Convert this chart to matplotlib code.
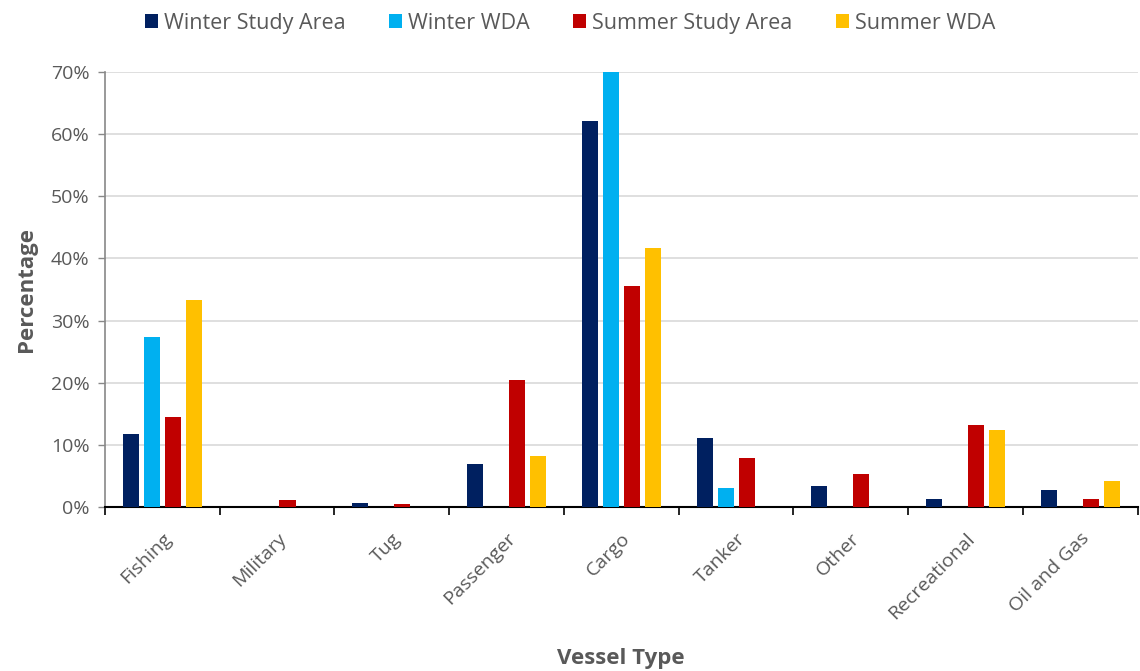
import numpy as np
import matplotlib.pyplot as plt
from matplotlib.ticker import PercentFormatter, FixedLocator

plt.rcParams['font.family'] = ['Open Sans', 'DejaVu Sans']

vessel_types = ["Fishing", "Military", "Tug", "Passenger", "Cargo",
                "Tanker", "Other", "Recreational", "Oil and Gas"]

# percentages per vessel type
winter_study = [11.7, 0.0, 0.7, 6.9, 62.1, 11.1, 3.4, 1.4, 2.8]
winter_wda = [27.4, 0.0, 0.0, 0.0, 69.9, 3.1, 0.0, 0.0, 0.0]
summer_study = [14.5, 1.2, 0.6, 20.4, 35.6, 7.9, 5.3, 13.2, 1.3]
summer_wda = [33.3, 0.0, 0.0, 8.3, 41.7, 0.0, 0.0, 12.5, 4.2]

series = [
    ("Winter Study Area", winter_study, "#002060"),
    ("Winter WDA", winter_wda, "#00B0F0"),
    ("Summer Study Area", summer_study, "#C00000"),
    ("Summer WDA", summer_wda, "#FFC000"),
]

gray = "#595959"
fig = plt.figure(figsize=(11.4, 6.71), dpi=100)
ax = fig.add_axes([0.092, 0.244, 0.906, 0.649])

x = np.arange(len(vessel_types))
step = 0.183
width = 0.14
for i, (name, vals, col) in enumerate(series):
    ax.bar(x + (i - 1.5) * step, vals, width, color=col, label=name,
           linewidth=0, zorder=3)

ax.set_xlim(-0.5, len(vessel_types) - 0.5)
ax.set_ylim(0, 70)
ax.set_yticks(np.arange(0, 71, 10))
ax.yaxis.set_major_formatter(PercentFormatter(decimals=0))
ax.grid(axis="y", color="#d9d9d9", linewidth=1.2, zorder=0)

ax.set_xticks(x)
ax.set_xticklabels(vessel_types, rotation=45, ha="right",
                   rotation_mode="anchor")
ax.xaxis.set_minor_locator(FixedLocator(np.arange(-0.5, len(vessel_types), 1)))
ax.tick_params(axis="x", which="major", length=0, pad=16,
               labelsize=14, labelcolor=gray)
ax.tick_params(axis="x", which="minor", length=6, width=1.2, color="black")
ax.tick_params(axis="y", length=5, width=1, color="#888888",
               labelsize=14, labelcolor=gray, pad=6)

for side in ["top", "right"]:
    ax.spines[side].set_visible(False)
ax.spines["bottom"].set_color("black")
ax.spines["bottom"].set_linewidth(1.5)
ax.spines["left"].set_color("#888888")
ax.spines["left"].set_linewidth(1.2)

ax.set_ylabel("Percentage", fontsize=16, fontweight="bold", color=gray,
              labelpad=10)
ax.set_xlabel("Vessel Type", fontsize=16, fontweight="bold", color=gray,
              labelpad=18)

leg = fig.legend(loc="upper center", bbox_to_anchor=(0.5, 1.01), ncol=4,
                 frameon=False, fontsize=15.5, handlelength=0.6,
                 handleheight=0.6, handletextpad=0.3, columnspacing=2.0)
for t in leg.get_texts():
    t.set_color(gray)

fig.savefig("out.png", dpi=100)
